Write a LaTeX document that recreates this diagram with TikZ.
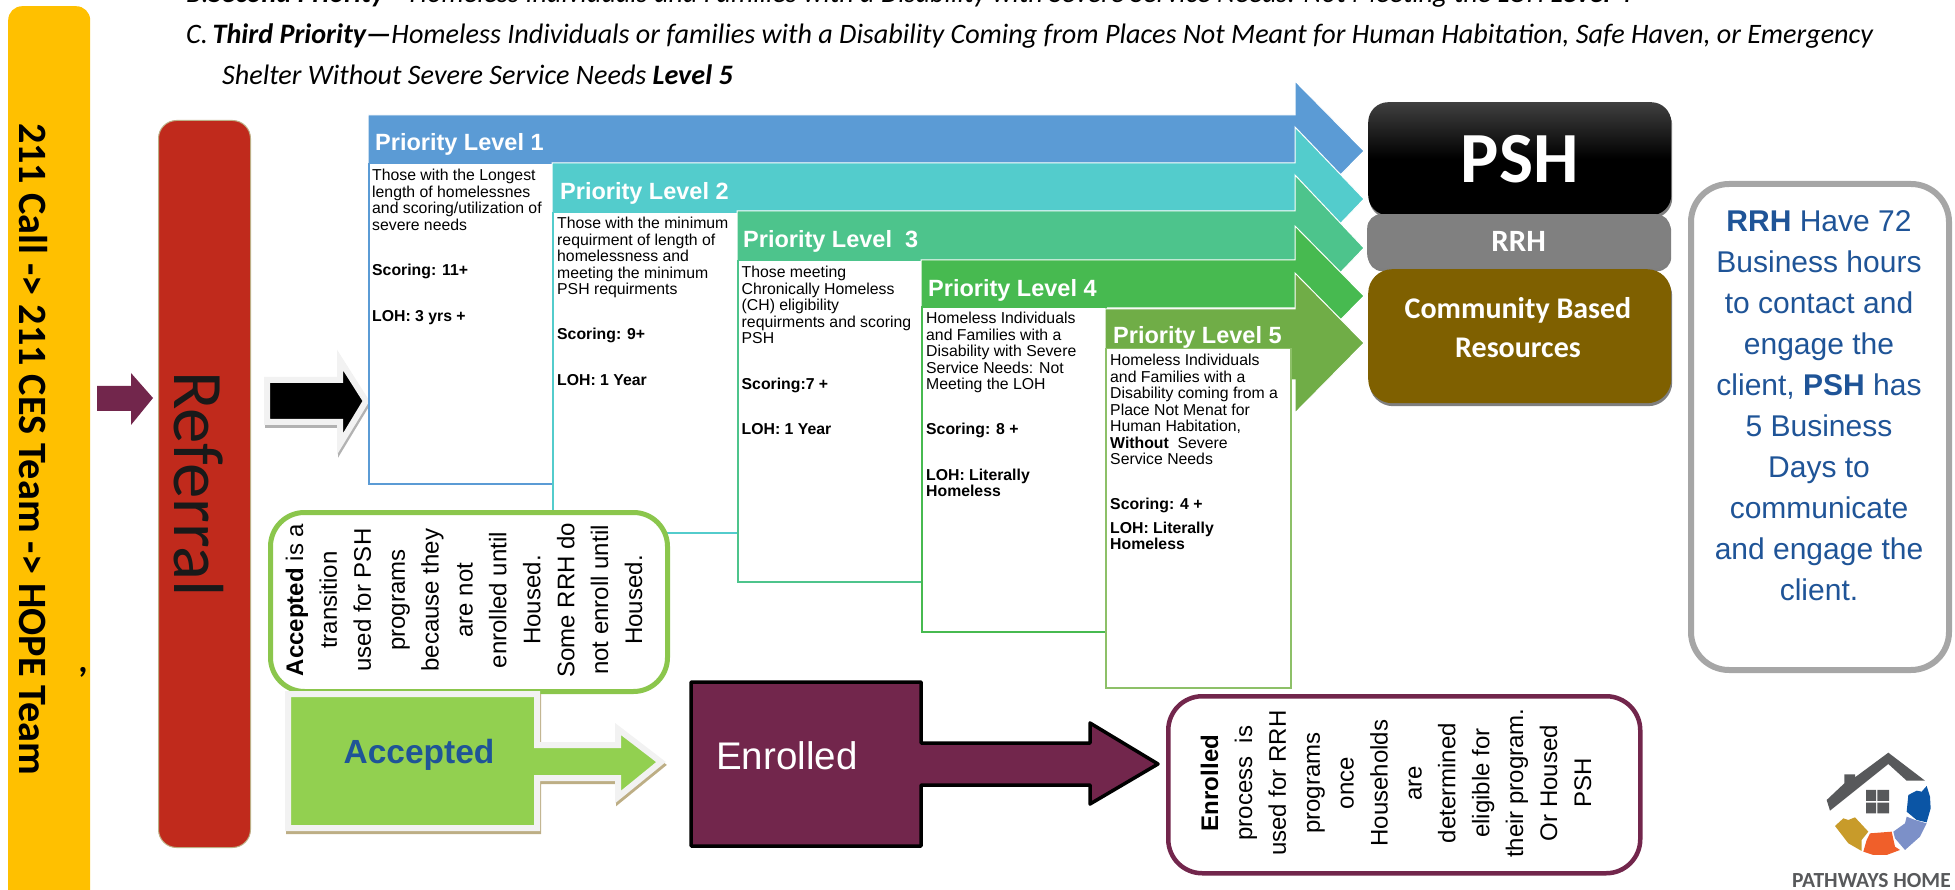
\documentclass[tikz,border=0pt]{standalone}
\usepackage{fontspec}
\usepackage{xcolor}
\usetikzlibrary{shadows}
\setmainfont{Liberation Sans}
\newfontfamily\calibrifont{Carlito}

\definecolor{levelone}{HTML}{5B9BD5}
\definecolor{leveltwo}{HTML}{53CCCC}
\definecolor{levelthree}{HTML}{4DC48C}
\definecolor{levelfour}{HTML}{47BA50}
\definecolor{levelfive}{HTML}{70AD47}
\definecolor{levelfiveline}{HTML}{8DC068}
\definecolor{callyellow}{HTML}{FFC000}
\definecolor{referralred}{HTML}{C02A1C}
\definecolor{plum}{HTML}{72264C}
\definecolor{acceptgreen}{HTML}{92D050}
\definecolor{noteblue}{HTML}{1F5497}
\definecolor{shadowtan}{HTML}{BDAE85}
\definecolor{palegrey}{HTML}{F2F2F2}
\definecolor{logogrey}{HTML}{58595B}
\definecolor{communitybrown}{HTML}{7F6000}
\definecolor{logoblue}{HTML}{0B55A5}
\definecolor{logoslate}{HTML}{7C90C8}
\definecolor{logoorange}{HTML}{F05F2A}
\definecolor{logogold}{HTML}{C89B2A}

\tikzset{
	levelarrow/.style={draw=white,line width=1pt,miter limit=10},
	leveltitle/.style={anchor=west,inner sep=0pt,text=white,font=\fontsize{23.5}{26}\selectfont\bfseries},
	leveltext/.style={anchor=north west,inner sep=0pt,align=left,font=\fontsize{15.8}{16.5}\selectfont},
	levelbox/.style={anchor=north west,inner sep=0pt,fill=white,line width=1.5pt},
	sidenote/.style={anchor=north west,inner sep=0pt,fill=white,rounded corners=34pt},
	sidetext/.style={rotate=90,inner sep=0pt,align=center,font=\fontsize{24}{33.9}\selectfont},
	stackbox/.style={anchor=north west,inner sep=0pt,rounded corners=20pt,minimum width=303pt,
		drop shadow={shadow xshift=1pt,shadow yshift=-3pt,opacity=.5,fill=black},text=white},
	toptext/.style={anchor=base west,inner sep=0pt,font=\calibrifont\fontsize{28.15}{30}\selectfont\itshape},
}
\newcommand{\acceptedoutline}{(288,694) -- (537,694) -- (537,745) -- (618,745) -- (618,729) -- (661,762) -- (618,797) -- (618,778) -- (537,778) -- (537,828) -- (288,828) -- cycle}
\newcommand{\blackoutline}{(267,380) -- (340,380) -- (340,360) -- (366,401) -- (340,444) -- (340,422) -- (267,422) -- cycle}

\begin{document}
\begin{tikzpicture}[x=1pt,y=-1pt]
	\useasboundingbox (0,0) rectangle (1955,890);

	% lines of text above the chart
	\node[toptext] (secondline) at (186,3) {B.\textbf{Second Priority}—Homeless Individuals and Families with a Disability with Severe Service Needs: Not Meeting the LOH \textbf{Level 4}};
	\node[toptext] (thirdline) at (186,44) {C.\,\textbf{Third Priority—}Homeless Individuals or families with a Disability Coming from Places Not Meant for Human Habitation, Safe Haven, or Emergency};
	\node[toptext] (thirdrest) at (222,85) {Shelter Without Severe Service Needs \textbf{Level 5}};

	% left columns
	\node[anchor=north west,inner sep=0pt,fill=callyellow,rounded corners=14pt,minimum width=82pt,minimum height=900pt] (callbar) at (8,6) {};
	\node[rotate=-90,inner sep=0pt,font=\calibrifont\fontsize{40.2}{42}\selectfont\bfseries] (calltext) at (33,449) {211 Call -> 211 CES Team -> HOPE Team};
	\node[inner sep=0pt,font=\calibrifont\fontsize{36}{38}\selectfont\bfseries] (callmark) at (83,672) {,};
	\fill[plum] (97,386) -- (131,386) -- (131,373) -- (153,398) -- (131,425) -- (131,411) -- (97,411) -- cycle;
	\node[anchor=north west,inner sep=0pt,fill=referralred,draw=shadowtan,line width=1pt,rounded corners=18pt,minimum width=92pt,minimum height=727pt] (referralbar) at (158,120) {};
	\node[rotate=-90,inner sep=0pt,text=black!90,font=\calibrifont\fontsize{71}{73}\selectfont] (referraltext) at (199,484) {Referral};
	\draw[shift={(1,3)},draw=black!30,fill=black!30,line width=6pt] \blackoutline;
	\draw[draw=palegrey,fill=black,line width=6pt] \blackoutline;

	% priority level 1
	\draw[levelarrow,fill=levelone] (368,115) -- (1295,115) -- (1295,81) -- (1364,151) -- (1295,221) -- (1295,187) -- (368,187) -- cycle;
	\node[leveltitle] (titleone) at (375,144) {Priority Level 1};
	\node[levelbox,draw=levelone,minimum width=184pt,minimum height=320pt] (boxone) at (368,163) {};
	\node[leveltext] (textone) at (372,169) {Those with the Longest\\length of homelessnes\\and scoring/utilization of\\severe needs\\[29pt]\textbf{Scoring: 11+}\\[29.5pt]\textbf{LOH: 3 yrs +}};

	% priority level 2
	\draw[levelarrow,fill=leveltwo] (552,163) -- (1295,163) -- (1295,127) -- (1364,199) -- (1295,271) -- (1295,235) -- (552,235) -- cycle;
	\node[leveltitle] (titletwo) at (560,193) {Priority Level 2};
	\node[levelbox,draw=leveltwo,minimum width=185pt,minimum height=320pt] (boxtwo) at (552,212) {};
	\node[leveltext] (texttwo) at (557,217) {Those with the minimum\\requirment of length of\\homelessness and\\meeting the minimum\\PSH requirments\\[28pt]\textbf{Scoring: 9+}\\[29.5pt]\textbf{LOH: 1 Year}};

	% priority level 3
	\draw[levelarrow,fill=levelthree] (737,211) -- (1295,211) -- (1295,175) -- (1364,248) -- (1295,320) -- (1295,285) -- (737,285) -- cycle;
	\node[leveltitle] (titlethree) at (743,241) {Priority Level \ 3};
	\node[levelbox,draw=levelthree,minimum width=184pt,minimum height=321pt] (boxthree) at (737,260) {};
	\node[leveltext] (textthree) at (741.5,266) {Those meeting\\Chronically Homeless\\(CH) eligibility\\requirments and scoring\\PSH\\[29pt]\textbf{Scoring:7 +}\\[28.5pt]\textbf{LOH: 1 Year}};

	% priority level 4
	\draw[levelarrow,fill=levelfour] (921,260) -- (1295,260) -- (1295,226) -- (1364,296) -- (1295,366) -- (1295,308) -- (921,308) -- cycle;
	\node[leveltitle] (titlefour) at (928,290) {Priority Level 4};
	\node[levelbox,draw=levelfour,line width=2pt,minimum width=184pt,minimum height=325pt] (boxfour) at (921,306) {};
	\node[leveltext] (textfour) at (926,312) {Homeless Individuals\\and Families with a\\Disability with Severe\\Service Needs: Not\\Meeting the LOH\\[28pt]\textbf{Scoring: 8 +}\\[29.5pt]\textbf{LOH: Literally}\\\textbf{Homeless}};

	% priority level 5
	\draw[levelarrow,fill=levelfive] (1105,309) -- (1295,309) -- (1295,273) -- (1364,343) -- (1295,413) -- (1295,380) -- (1105,380) -- cycle;
	\node[leveltitle] (titlefive) at (1113,337) {Priority Level 5};
	\node[levelbox,draw=levelfiveline,minimum width=185pt,minimum height=339pt] (boxfive) at (1105,348) {};
	\node[leveltext] (textfive) at (1110,354) {Homeless Individuals\\and Families with a\\Disability coming from a\\Place Not Menat for\\Human Habitation,\\\textbf{Without} \ Severe\\Service Needs\\[28pt]\textbf{Scoring: 4 +}\\[7.5pt]\textbf{LOH: Literally}\\\textbf{Homeless}};

	% housing stack on the right
	\node[stackbox,minimum height=113pt,top color=black!75,bottom color=black,middle color=black,font=\calibrifont\fontsize{72}{74}\selectfont\bfseries] (pshbox) at (1368,102) {PSH};
	\node[stackbox,minimum height=54pt,fill=black!50,rounded corners=14pt,font=\calibrifont\fontsize{31}{33}\selectfont\bfseries] (rrhbox) at (1367,214) {RRH};
	\node[stackbox,minimum height=134pt,fill=communitybrown,rounded corners=24pt] (communitybox) at (1368,269) {};
	\node[inner sep=0pt,text=white,align=center,font=\calibrifont\fontsize{30}{39}\selectfont\bfseries] (communitytext) at (1518,328) {Community Based\\Resources};

	% timing note
	\node[sidenote,draw=black!35,line width=6pt,rounded corners=38pt,minimum width=258pt,minimum height=486pt] (timingbox) at (1688,181) {};
	\node[inner sep=0pt,text=noteblue,align=center,font=\fontsize{30}{41}\selectfont] (timingtext) at (1819,406) {\textbf{RRH} Have 72\\Business hours\\to contact and\\engage the\\client, \textbf{PSH} has\\5 Business\\Days to\\communicate\\and engage the\\client.};

	% accepted row
	\node[sidenote,draw=acceptgreen!95!black,line width=5pt,minimum width=397pt,minimum height=179pt] (acceptednote) at (268,510) {};
	\node[sidetext] (acceptedtext) at (464,600) {\textbf{Accepted} is a\\transition\\used for PSH\\programs\\because they\\are not\\enrolled until\\Housed.\\Some RRH do\\not enroll until\\Housed.};
	\draw[shift={(1,3)},draw=shadowtan,fill=shadowtan,line width=6pt] \acceptedoutline;
	\draw[draw=palegrey,fill=acceptgreen,line width=6pt] \acceptedoutline;
	\node[inner sep=0pt,text=noteblue,font=\fontsize{33.5}{36}\selectfont\bfseries] (acceptedlabel) at (419,755) {Accepted};

	% enrolled row
	\draw[draw=black,fill=plum,line width=3.5pt,line join=round] (691,682) -- (921,682) -- (921,743) -- (1090,743) -- (1090,723) -- (1158,764) -- (1090,804) -- (1090,785) -- (921,785) -- (921,846) -- (691,846) -- cycle;
	\node[anchor=base west,inner sep=0pt,text=white,font=\fontsize{38.5}{40}\selectfont] (enrolledlabel) at (716,769) {Enrolled};
	\node[sidenote,draw=plum,line width=4.5pt,minimum width=472pt,minimum height=177pt] (enrollednote) at (1166,694) {};
	\node[sidetext] (enrolledtext) at (1396,783) {\textbf{Enrolled}\\process \ is\\used for RRH\\programs\\once\\Households\\are\\determined\\eligible for\\their program.\\Or Housed\\PSH};

	% logo
	\begin{scope}[shift={(1780,740)},x=0.3333pt,y=-0.3333pt]
		\fill[logogrey] (140,180) -- (193,130) -- (193,103) -- (225,103) -- (225,112) -- (325,38) -- (435,122) -- (380,122) -- (325,72) -- (150,212) -- cycle;
		\fill[logogrey] (258,150) rectangle (288,183) (292,150) rectangle (327,183) (258,188) rectangle (288,220) (292,188) rectangle (327,220);
		\fill[logoblue] (385,165) -- (410,152) -- (425,155) -- (440,138) -- (450,170) -- (452,205) -- (440,247) -- (410,240) -- (380,215) -- cycle;
		\fill[logoslate] (380,230) -- (405,240) -- (440,250) -- (420,290) -- (375,330) -- (345,295) -- (340,275) -- (375,250) -- cycle;
		\fill[logoorange] (270,280) -- (335,275) -- (345,320) -- (360,330) -- (320,345) -- (280,345) -- (250,335) -- (260,300) -- cycle;
		\fill[logogold] (165,258) -- (190,235) -- (205,240) -- (225,232) -- (265,275) -- (245,300) -- (245,333) -- (205,310) -- cycle;
	\end{scope}
	\node[anchor=base west,inner sep=0pt,text=logogrey,font=\calibrifont\fontsize{21.5}{24}\selectfont\bfseries] (logotext) at (1792,887) {PATHWAYS HOME};
\end{tikzpicture}
\end{document}
